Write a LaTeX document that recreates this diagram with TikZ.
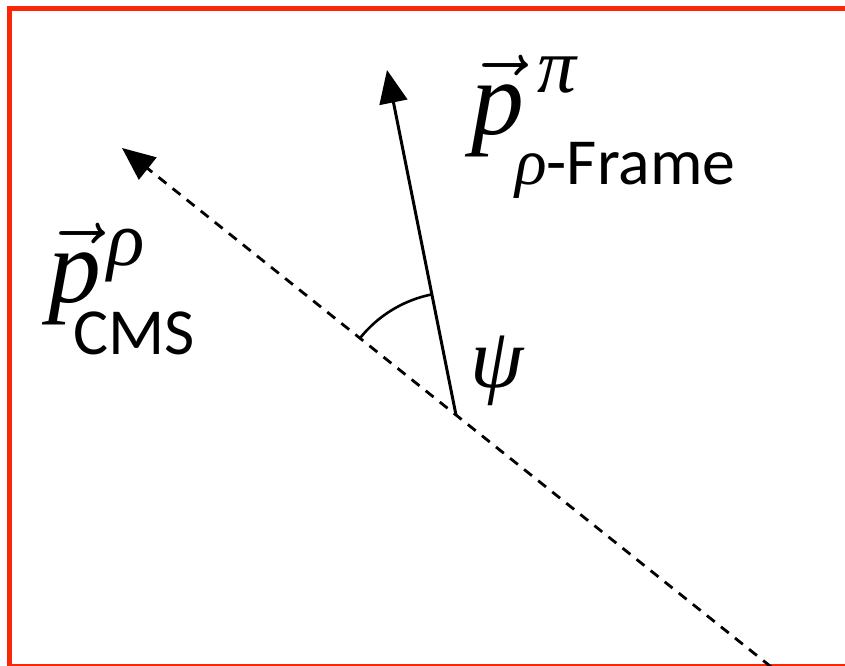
\RequirePackage{fix-cm}
\documentclass[tikz,border=0pt]{standalone}
\usepackage{amsmath}
\usepackage{fontspec}
\newfontfamily\calibri{Carlito}
\newfontfamily\libserif{Liberation Serif}
\newcommand{\libit}{\libserif\itshape}
\usetikzlibrary{arrows.meta}
\definecolor{framered}{RGB}{250,38,8}
\tikzset{
  vecline/.style={line width=3bp, -{Triangle[length=33bp,width=28bp]}},
  dashline/.style={line width=2.8bp, dash pattern=on 10bp off 8bp, -{Triangle[length=33bp,width=28bp]}},
  anglearc/.style={line width=2.6bp},
  lbl/.style={inner sep=0pt, anchor=base west},
}
\begin{document}
\begin{tikzpicture}[x=1bp,y=1bp]
\useasboundingbox (0,0) rectangle (845,666);
\begin{scope}
\clip (0,0) rectangle (845,666);
% red frame
\draw[framered, line width=5bp] (9.5,-10) -- (9.5,657.5) -- (860,657.5);
\draw[framered, line width=1.6bp] (9,0.8) -- (845,0.8);
% geometry
\coordinate (O) at (456,251);
\coordinate (A) at (387,596);
\coordinate (B) at (122,518);
\coordinate (E) at (785,-12);
\draw[dashline] (E) -- (B);
\draw[vecline] (O) -- (A);
\draw[anglearc] (O) ++(101.3:123) arc[start angle=101.3, end angle=141.4, radius=123];
\end{scope}
% labels
\node[lbl] (ptop) at (471,531) {\fontsize{106}{106}\selectfont$\vec{\text{\libit p}}$};
\node[lbl] (pisup) at (537,573) {\fontsize{78}{78}\selectfont\libit π};
\node[lbl] (frame) at (515,481) {\fontsize{66}{66}\selectfont{\libit ρ}\calibri -Frame};
\node[lbl] (pleft) at (48,363) {\fontsize{106}{106}\selectfont$\vec{\text{\libit p}}$};
\node[lbl] (rhosup) at (107,400) {\fontsize{78}{78}\selectfont\libit ρ};
\node[lbl] (cms) at (73,311) {\fontsize{66}{66}\selectfont\calibri CMS};
\node[lbl] (psi) at (470,278) {\fontsize{86}{86}\selectfont\libit ψ};
\end{tikzpicture}
\end{document}
